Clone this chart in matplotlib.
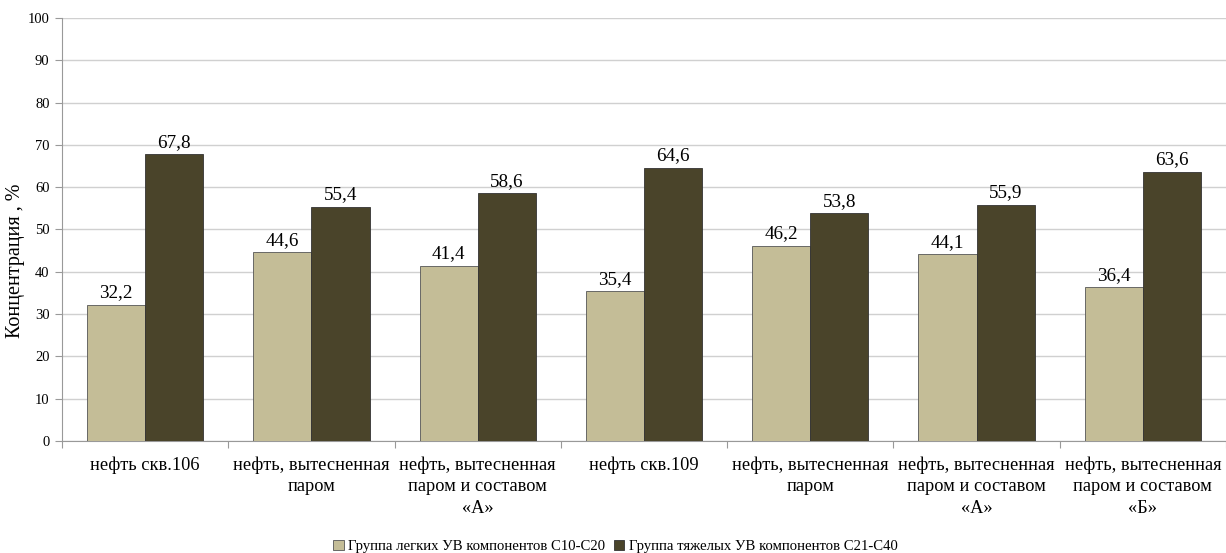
import numpy as np
import matplotlib
matplotlib.use("Agg")
import matplotlib.pyplot as plt

categories = [
    "нефть скв.106",
    "нефть, вытесненная\nпаром",
    "нефть, вытесненная\nпаром и составом\n«А»",
    "нефть скв.109",
    "нефть, вытесненная\nпаром",
    "нефть, вытесненная\nпаром и составом\n«А»",
    "нефть, вытесненная\nпаром и составом\n«Б»",
]
light = [32.2, 44.6, 41.4, 35.4, 46.2, 44.1, 36.4]
heavy = [67.8, 55.4, 58.6, 64.6, 53.8, 55.9, 63.6]
series_names = ["Группа легких УВ компонентов C10-C20",
                "Группа тяжелых УВ компонентов C21-C40"]
colors = ["#C4BD97", "#4A442A"]

plt.rcParams["font.family"] = ["Liberation Serif", "DejaVu Serif"]

fig = plt.figure(figsize=(12.26, 5.53), dpi=100)
ax = fig.add_axes([0.0506, 0.2025, 0.9494, 0.765])

x = np.arange(len(categories))
w = 0.35
b1 = ax.bar(x - w / 2, light, w, color=colors[0], edgecolor="#555555",
            linewidth=0.6, label=series_names[0], zorder=3)
b2 = ax.bar(x + w / 2, heavy, w, color=colors[1], edgecolor="#333333",
            linewidth=0.6, label=series_names[1], zorder=3)

for bars, vals in ((b1, light), (b2, heavy)):
    for rect, v in zip(bars, vals):
        ax.text(rect.get_x() + rect.get_width() / 2, v + 0.8,
                f"{v:.1f}".replace(".", ","), ha="center", va="bottom",
                fontsize=13.8)

ax.set_xlim(-0.5, len(categories) - 0.5)
ax.set_ylim(0, 100)
ax.set_yticks(np.arange(0, 101, 10))
ax.set_xticks(np.arange(len(categories) + 1) - 0.5)
ax.set_xticklabels([])
ax.set_xticks(x, minor=True)
ax.set_xticklabels(categories, minor=True, fontsize=13.2, linespacing=1.35)
ax.tick_params(axis="x", which="minor", length=0, pad=11)
ax.tick_params(axis="x", which="major", length=5, color="#999999")
ax.tick_params(axis="y", length=5, color="#999999", labelsize=10.5, pad=4)

ax.grid(axis="y", color="#D0D0D0", linewidth=1.0, zorder=0)
for s in ("top", "right"):
    ax.spines[s].set_visible(False)
for s in ("left", "bottom"):
    ax.spines[s].set_color("#999999")

ax.set_ylabel("Концентрация , %", fontsize=14.5)
ax.yaxis.set_label_coords(-0.0318, 0.425)

fig.legend(loc="center", bbox_to_anchor=(0.502, 0.012), ncol=2,
           frameon=False, fontsize=10.6, handlelength=0.7, handleheight=0.7,
           handletextpad=0.3, columnspacing=0.6, borderpad=0)

fig.savefig("out.png", dpi=100)
